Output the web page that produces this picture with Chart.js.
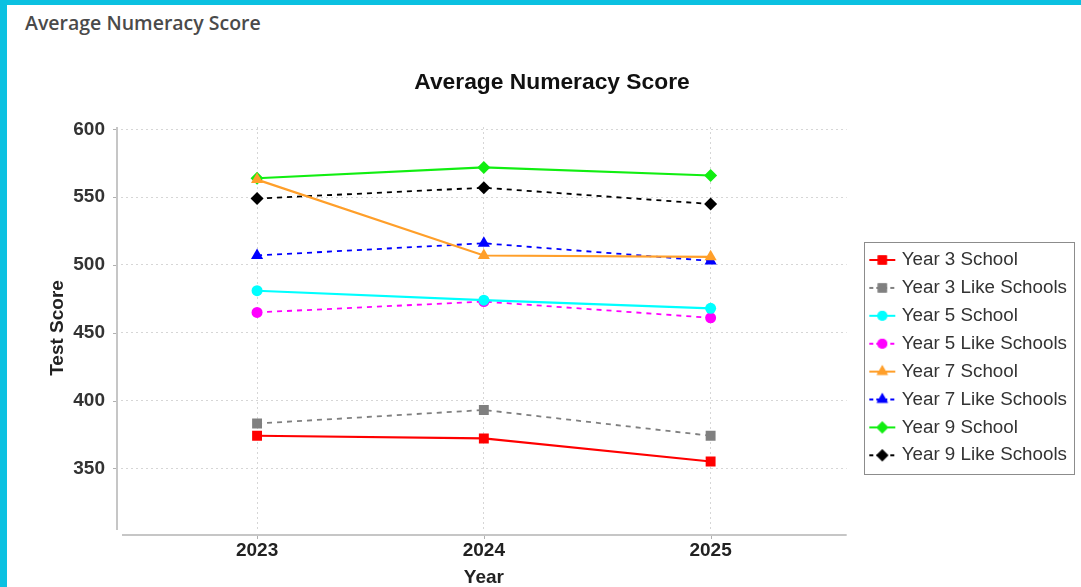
<!DOCTYPE html>
<html>
<head>
<meta charset="utf-8">
<script src="https://cdn.jsdelivr.net/npm/chart.js@4.4.1/dist/chart.umd.min.js"></script>
<style>
  html, body { margin: 0; padding: 0; background: #ffffff; }
  body { width: 1081px; height: 587px; position: relative; overflow: hidden; }
  #topbar { position: absolute; left: 0; top: 0; width: 1081px; height: 5px; background: #0bc1e1; }
  #leftbar { position: absolute; left: 0; top: 0; width: 7px; height: 587px; background: #0bc1e1; }
  #header { position: absolute; left: 25px; top: 13px; font-family: "Open Sans", sans-serif; font-size: 19.5px; font-weight: 600; line-height: 20px; color: #4a4a4a; white-space: nowrap; }
  #wrap { position: absolute; left: 0; top: 0; width: 1081px; height: 587px; }
</style>
</head>
<body>
<div id="topbar"></div>
<div id="leftbar"></div>
<div id="header">Average Numeracy Score</div>
<div id="wrap"><canvas id="c" width="1081" height="587"></canvas></div>
<script>
const years = ["2023", "2024", "2025"];
const yTicks = [350, 400, 450, 500, 550, 600];

const seriesNames = [
  "Year 3 School", "Year 3 Like Schools",
  "Year 5 School", "Year 5 Like Schools",
  "Year 7 School", "Year 7 Like Schools",
  "Year 9 School", "Year 9 Like Schools"
];
const year3School = [374, 372, 355];
const year3Like   = [383, 393, 374];
const year5School = [481, 474, 468];
const year5Like   = [465, 473, 461];
const year7School = [563, 507, 506];
const year7Like   = [507, 516, 503];
const year9School = [564, 572, 566];
const year9Like   = [549, 557, 545];

const seriesValues = [year3School, year3Like, year5School, year5Like, year7School, year7Like, year9School, year9Like];
const colors = ["#ff0000", "#808080", "#00ffff", "#ff00ff", "#ff9f2a", "#0000ff", "#11ee11", "#000000"];
const styles = ["rect", "rect", "circle", "circle", "triangle", "triangle", "rectRot", "rectRot"];
const radii = [7, 7, 5.5, 5.5, 7, 7, 6.5, 6.5];
const dashed = [false, true, false, true, false, true, false, true];

const FONT = "Liberation Sans, Arial, sans-serif";

function legendIcon(i) {
  const cv = document.createElement('canvas');
  cv.width = 28; cv.height = 16;
  const g = cv.getContext('2d');
  g.strokeStyle = colors[i];
  g.lineWidth = 2;
  if (dashed[i]) g.setLineDash([4, 3]);
  g.beginPath(); g.moveTo(1, 8); g.lineTo(27, 8); g.stroke();
  g.setLineDash([]);
  g.fillStyle = colors[i];
  Chart.helpers.drawPoint(g, {pointStyle: styles[i], radius: radii[i] - 0.5, borderWidth: 0, rotation: 0}, 14, 8);
  g.fill();
  return cv;
}

const datasets = seriesNames.map((name, i) => ({
  label: name,
  data: seriesValues[i].map((v, k) => ({x: k, y: v})),
  borderColor: colors[i],
  backgroundColor: colors[i],
  borderWidth: dashed[i] ? 1.8 : 2.2,
  borderDash: dashed[i] ? [5, 5] : [],
  pointStyle: styles[i],
  pointRadius: radii[i],
  pointHoverRadius: radii[i],
  pointBorderWidth: 0,
  pointBackgroundColor: colors[i],
  tension: 0,
  fill: false
}));

const axisPlugin = {
  id: 'axisLines',
  afterDraw(chart) {
    const {ctx, chartArea} = chart;
    ctx.save();
    ctx.strokeStyle = '#c6c6c6';
    ctx.lineWidth = 2;
    ctx.beginPath();
    ctx.moveTo(chartArea.left - 4, chartArea.top);
    ctx.lineTo(chartArea.left - 4, chartArea.bottom + 1);
    ctx.moveTo(chartArea.left + 1, chartArea.bottom + 6);
    ctx.lineTo(chartArea.right, chartArea.bottom + 6);
    ctx.stroke();
    ctx.lineWidth = 1;
    ctx.strokeStyle = '#b0b0b0';
    const ys = chart.scales.y, xs = chart.scales.x;
    ctx.beginPath();
    yTicks.forEach(v => {
      const p = Math.round(ys.getPixelForValue(v)) + 0.5;
      ctx.moveTo(chartArea.left - 8, p); ctx.lineTo(chartArea.left - 5, p);
    });
    years.forEach((y, k) => {
      const p = Math.round(xs.getPixelForValue(k)) + 0.5;
      ctx.moveTo(p, chartArea.bottom + 7); ctx.lineTo(p, chartArea.bottom + 10);
    });
    ctx.stroke();
    const lg = chart.legend;
    if (lg && lg.legendHitBoxes && lg.legendHitBoxes.length) {
      const hb = lg.legendHitBoxes;
      const first = hb[0], last = hb[hb.length - 1];
      const l = first.left - 8, t = first.top - 9;
      const r = lg.right - 3, b = last.top + last.height + 9;
      ctx.strokeStyle = '#8c8c8c';
      ctx.lineWidth = 1;
      ctx.strokeRect(Math.round(l) + 0.5, Math.round(t) + 0.5, Math.round(r - l), Math.round(b - t));
    }
    ctx.restore();
  }
};

const icons = seriesNames.map((n, i) => legendIcon(i));

new Chart(document.getElementById('c'), {
  type: 'line',
  data: { datasets },
  plugins: [axisPlugin],
  options: {
    responsive: false,
    animation: false,
    events: [],
    layout: { padding: { left: 27, right: 4, top: 0, bottom: 0 } },
    plugins: {
      title: {
        display: true,
        text: "Average Numeracy Score",
        color: '#111111',
        font: { family: FONT, size: 22.8, weight: 'bold', lineHeight: 1 },
        padding: { top: 71.1, bottom: 33.1 }
      },
      legend: {
        display: true,
        position: 'right',
        align: 'start',
        maxWidth: 300,
        title: { display: true, text: ' ', font: { size: 10, lineHeight: 1 }, padding: { top: 231.5, bottom: 0 } },
        labels: {
          usePointStyle: true,
          pointStyleWidth: 20,
          padding: 9.1,
          color: '#333333',
          font: { family: FONT, size: 18.8 },
          generateLabels(chart) {
            return seriesNames.map((n, i) => ({
              text: n,
              pointStyle: icons[i],
              fillStyle: colors[i],
              strokeStyle: colors[i],
              fontColor: '#333333',
              lineWidth: 0,
              hidden: false,
              datasetIndex: i
            }));
          }
        }
      },
      tooltip: { enabled: false }
    },
    scales: {
      x: {
        type: 'linear',
        min: -0.6,
        max: 2.6,
        afterBuildTicks(s) { s.ticks = years.map((y, k) => ({value: k})); },
        afterFit(s) { s.height = 58; },
        ticks: {
          callback: (v) => years[v],
          color: '#222222',
          padding: 10,
          font: { family: FONT, size: 19, weight: 'bold', lineHeight: 1.2 },
          maxRotation: 0, autoSkip: false
        },
        grid: { color: '#d6d6d6', lineWidth: 1, drawTicks: false },
        border: { display: false, dash: [2, 3] },
        title: {
          display: true, text: 'Year', color: '#222222',
          font: { family: FONT, size: 19, weight: 'bold', lineHeight: 1 },
          padding: { top: 0, bottom: 0 }
        }
      },
      y: {
        type: 'linear',
        position: 'left',
        min: 305.2,
        max: 601.8,
        afterBuildTicks(s) { s.ticks = yTicks.map(v => ({value: v})); },
        afterFit(s) { s.width = 94; },
        ticks: {
          color: '#333333',
          padding: 16,
          font: { family: FONT, size: 19, weight: 'bold', lineHeight: 1.2 }
        },
        grid: { color: '#d6d6d6', lineWidth: 1, drawTicks: false },
        border: { display: false, dash: [2, 3] },
        title: {
          display: true, text: 'Test Score', color: '#222222',
          font: { family: FONT, size: 19, weight: 'bold', lineHeight: 1 },
          padding: { top: 21, bottom: 0 }
        }
      },
      yRight: {
        type: 'linear',
        position: 'right',
        display: true,
        grid: { display: false, drawTicks: false },
        border: { display: false },
        ticks: { display: false },
        afterFit(s) { s.width = 16.5; }
      }
    }
  }
});
</script>
</body>
</html>
